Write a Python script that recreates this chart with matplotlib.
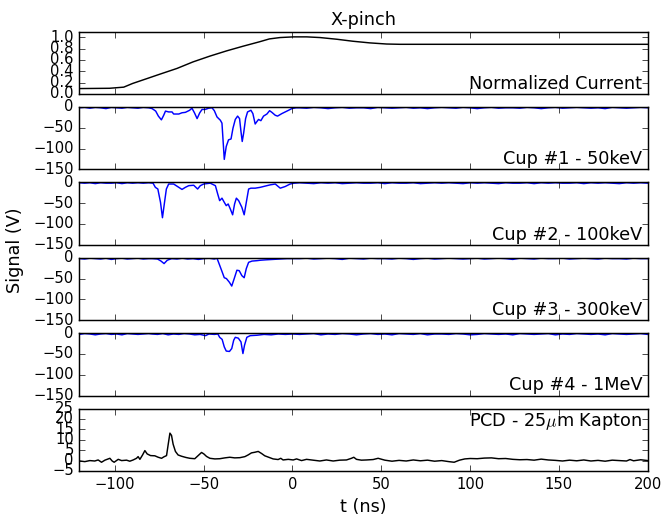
"""X-pinch diagnostics: normalized current, Faraday cups and PCD signal."""

import matplotlib
matplotlib.use('Agg')
import matplotlib.pyplot as plt

###################################################################################################
###################################################################################################

# Normalized current
t_cur = [-120, -103, -95, -90, -82, -75, -65, -56, -46.5, -37, -28, -18.5, -13, -7, 0.5,
         8, 15.5, 25, 34, 43.5, 53, 60.5, 80, 120, 160, 200]
v_cur = [0.095, 0.10, 0.12, 0.185, 0.27, 0.345, 0.45, 0.565, 0.667, 0.76, 0.84, 0.92, 0.97,
         0.994, 1.006, 1.006, 0.994, 0.964, 0.929, 0.90, 0.88, 0.875, 0.875, 0.875, 0.875, 0.875]

# Shared baseline sample times (before / after the events)
t_pre = [-120, -117, -114, -111, -108, -105, -102, -99, -96, -93, -90, -87, -84, -81]
t_post = [4, 8, 12, 16, 20, 24, 28, 32, 36, 40, 44, 48, 52, 56, 60, 64, 68, 72, 76, 80,
          84, 88, 92, 96, 100, 104, 108, 112, 116, 120, 124, 128, 132, 136, 140, 144, 148,
          152, 156, 160, 164, 168, 172, 176, 180, 184, 188, 192, 196, 200]

# Cup #1 - 50keV
cup1_pre = [-2, -1, -3, -1, -2, -4, -1, -2, -3, -1, -2, -3, -1, -2]
cup1_t = [-79, -77, -75.5, -73.8, -72.5, -71.5, -69.7, -67.8, -66.9, -64, -62.2, -60.3,
          -57.9, -56.6, -55.2, -53.7, -52.2, -50.9, -49.1, -47.2, -45.3, -44, -42.5, -40.6,
          -39.7, -38.4, -37.3, -36, -34.6, -33.5, -32.2, -30.9, -29.8, -29, -28.3, -27.5,
          -26.4, -25.3, -23.4, -22.3, -21, -20, -19.1, -17.8, -16.3, -14.4, -12.9, -11.6,
          -9.7, -8.4, -6, -4.1, -2.2, -0.4, 2]
cup1_v = [-4, -10, -22, -31, -20, -10, -12, -12, -17, -17, -14, -13, -8, -3, -14, -28, -14,
          -6, -6, -3, -2, -9, -24, -32, -39, -126, -95, -79, -77, -51, -30, -22, -28, -59,
          -83, -63, -28, -12, -8, -16, -41, -35, -30, -33, -22, -17, -9, -13, -20, -22, -16,
          -12, -8, -4, -2]
cup1_post = [-2, -3, -1, -2, -4, -2, -1, -3, -2, -2, -4, -1, -2, -3, -2, -1, -3, -2, -4, -2,
             -1, -2, -3, -1, -2, -4, -2, -1, -3, -2, -2, -3, -1, -2, -4, -2, -1, -3, -2, -1,
             -2, -3, -2, -4, -1, -2, -3, -2, -1, -2]

# Cup #2 - 100keV
cup2_pre = [-1, -2, -1, -3, -1, -2, -2, -1, -3, -1, -2, -1, -2, -1]
cup2_t = [-78.5, -77.2, -75.8, -74.3, -73.2, -72.1, -71, -69.7, -66.9, -64, -62.2, -60.3,
          -58.4, -55.6, -53.4, -51.9, -50, -46.3, -43.4, -42.1, -41, -39.7, -38.4, -37.3,
          -36.2, -35, -33.7, -32.6, -31.6, -30.3, -28.5, -27.2, -26, -24.7, -23.4, -21,
          -18.2, -15.4, -12.5, -9.7, -6.9, -4.1, -1.3, 1]
cup2_v = [-2, -12, -16, -48, -85, -50, -16, -4, -4, -12, -17, -12, -8, -7, -16, -8, -4, -2,
          -8, -28, -44, -38, -48, -56, -52, -64, -78, -52, -38, -44, -60, -78, -48, -16, -14,
          -14, -12, -9, -6, -4, -14, -10, -4, -2]
cup2_post = [-1, -2, -3, -1, -2, -1, -3, -2, -1, -2, -2, -1, -3, -1, -2, -2, -1, -3, -2, -1,
             -2, -1, -2, -3, -1, -2, -1, -2, -3, -1, -2, -2, -1, -3, -1, -2, -1, -2, -2, -1,
             -3, -1, -2, -1, -2, -3, -1, -2, -1, -2]

# Cup #3 - 300keV
cup3_pre = [-2, -3, -1, -2, -3, -1, -4, -2, -1, -3, -2, -1, -3, -2]
cup3_t = [-79, -76, -74, -72.3, -70.5, -68, -65, -62, -59, -56, -53, -50, -47, -44, -42.5,
          -41, -39.6, -38.4, -37.2, -35.5, -34.2, -32.8, -31.3, -30, -28.5, -27.2, -26,
          -24.7, -22.8, -20, -18.2, -15, -11, -7, -3, 1]
cup3_v = [-2, -3, -8, -14, -6, -2, -3, -1, -3, -2, -4, -2, -1, -3, -1, -18, -34, -48, -50,
          -59, -68, -50, -30, -31, -43, -48, -26, -11, -8, -7, -6, -5, -4, -3, -2, -2]
cup3_post = [-2, -1, -3, -2, -1, -2, -4, -1, -2, -3, -1, -2, -2, -3, -1, -2, -4, -2, -1, -3,
             -2, -1, -2, -3, -2, -1, -3, -2, -1, -2, -4, -1, -2, -3, -1, -2, -2, -1, -3, -2,
             -1, -2, -3, -1, -2, -2, -3, -1, -2, -2]

# Cup #4 - 1MeV
cup4_pre = [-3, -1, -2, -4, -2, -1, -3, -2, -4, -1, -2, -3, -2, -1]
cup4_t = [-79, -76, -73, -70, -67, -64, -61, -58, -55, -52, -49, -47, -44, -42, -41, -39.6,
          -38.4, -37.3, -35.5, -34.2, -33.1, -32.2, -30.5, -29, -27.9, -27, -25.7, -23.8,
          -20, -16, -12, -8, -4, 0]
cup4_v = [-2, -3, -1, -4, -2, -3, -1, -2, -4, -3, -6, -2, -3, -2, -10, -15, -33, -43, -44,
          -37, -17, -10, -12, -21, -49, -29, -10, -6, -5, -3, -4, -2, -3, -2]
cup4_post = [-3, -2, -1, -4, -2, -3, -1, -2, -4, -2, -1, -3, -2, -4, -1, -2, -3, -1, -4, -2,
             -2, -3, -1, -2, -4, -3, -1, -2, -3, -2, -4, -1, -2, -3, -2, -1, -4, -2, -3, -1,
             -2, -3, -2, -4, -1, -2, -3, -2, -1, -3]

# PCD - 25um Kapton
t_pcd = [-119.7, -116.9, -114.1, -111.3, -109.4, -107.5, -105.6, -102.8, -101.5, -100.4,
         -98.1, -96.2, -93.4, -91.6, -89.7, -87.8, -86.9, -85.9, -84.4, -83.1, -81.8, -79.9,
         -77.5, -75.6, -73.7, -72.4, -70.9, -70, -69, -68.1, -67.2, -65.9, -64.4, -62.5,
         -60, -57.8, -55, -53.1, -51.2, -49.9, -48.4, -46.5, -43.7, -40.9, -38.1, -35.3,
         -32.5, -29.6, -26.8, -25, -23.1, -21.2, -19.3, -17.4, -15.6, -13.1, -10.9, -8.1,
         -6.6, -5.3, -2.4, 0.4, 2.3, 5.1, 7.9, 11.6, 15.4, 19.1, 22.9, 26.6, 30.4, 33.2,
         34.5, 36, 38.8, 41.7, 45.4, 48.2, 52, 56, 60, 64, 68, 72, 76, 80, 84, 88, 91, 94,
         97, 100, 104, 108, 112, 116, 120, 124, 128, 132, 136, 140, 144, 148, 152, 156, 160,
         164, 168, 172, 176, 180, 184, 188, 190, 192, 196, 200]
v_pcd = [-0.2, -0.5, 0, -0.2, 0.3, -0.8, 0.2, 1.1, -0.2, -0.8, 0.6, 0, 0.2, -0.3, 0.3, 1.1,
         1.9, 0.6, 2.7, 4.8, 3.2, 2.4, 2.3, 1.6, 1.1, 1.8, 2.4, 7.6, 13.2, 12.1, 7.9, 4.4,
         2.7, 2.1, 1.5, 1.1, 0.9, 2.4, 3.9, 3.2, 2.0, 1.1, 0.8, 0.9, 1.3, 1.6, 1.3, 1.4, 1.9,
         2.7, 3.7, 4.0, 4.4, 3.4, 2.3, 1.5, 0.8, 0.5, 1.1, 0.3, 0.6, 0.3, 0.8, 0, 0.6, 0.2,
         -0.2, 0.3, -0.2, 0.2, 0.3, 1.1, 1.6, 0.6, 0.2, 0.3, 0.5, 1.1, 0.2, -0.3, 0.1, -0.2,
         0.3, -0.1, 0.2, -0.3, 0, -0.5, -0.8, 0.2, 0.8, 1.0, 0.9, 1.2, 1.3, 0.9, 1.0, 0.6,
         0.4, 0.5, 0.2, 0.7, 0.3, 0.1, -0.2, 0.2, -0.1, 0.3, -0.2, 0.1, -0.3, 0.2, 0, -0.2,
         0.5, -0.1, 0.4, 0]

cups = [
    ('Cup #1 - 50keV', cup1_pre, cup1_t, cup1_v, cup1_post),
    ('Cup #2 - 100keV', cup2_pre, cup2_t, cup2_v, cup2_post),
    ('Cup #3 - 300keV', cup3_pre, cup3_t, cup3_v, cup3_post),
    ('Cup #4 - 1MeV', cup4_pre, cup4_t, cup4_v, cup4_post),
]

###################################################################################################
###################################################################################################

plt.style.use('classic')
plt.rcParams.update({
    'figure.facecolor': 'white',
    'savefig.facecolor': 'white',
    'font.size': 12.7,
    'xtick.labelsize': 10.6,
    'ytick.labelsize': 10.6,
    'xtick.major.size': 4.2,
    'ytick.major.size': 4.2,
    'xtick.minor.size': 0,
    'ytick.minor.size': 0,
    'lines.linewidth': 1.05,
    'axes.linewidth': 1.05,
})

fig, axes = plt.subplots(6, 1, sharex=True, figsize=(6.61, 5.17), dpi=100)
fig.subplots_adjust(left=0.12, right=0.98, top=0.939, bottom=0.089, hspace=0.208)


def label(ax, text, top=False):
    """Write a channel name in the right corner of a panel."""
    if top:
        ax.text(0.99, 0.96, text, transform=ax.transAxes, ha='right', va='top')
    else:
        ax.text(0.99, 0.02, text, transform=ax.transAxes, ha='right', va='bottom')


# Normalized current
ax = axes[0]
ax.plot(t_cur, v_cur, 'k')
ax.set_ylim(0, 1.1)
ax.set_yticks([0.0, 0.2, 0.4, 0.6, 0.8, 1.0])
ax.set_title('X-pinch', fontsize=12.7)
label(ax, 'Normalized Current')

# Faraday cups
for ax, (name, pre, tt, vv, post) in zip(axes[1:5], cups):
    ax.plot(t_pre + tt + t_post, pre + vv + post, 'b')
    ax.set_ylim(-150, 0)
    ax.set_yticks([0, -50, -100, -150])
    label(ax, name)

# PCD
ax = axes[5]
ax.plot(t_pcd, v_pcd, 'k')
ax.set_ylim(-5, 25)
ax.set_yticks([-5, 0, 5, 10, 15, 20, 25])
label(ax, r'PCD - 25$\mu$m Kapton', top=True)

ax.set_xlim(-120, 200)
ax.set_xticks([-100, -50, 0, 50, 100, 150, 200])
ax.set_xlabel('t (ns)')

fig.text(0.022, 0.515, 'Signal (V)', rotation=90, ha='center', va='center')

plt.savefig('out.png', dpi=100)
